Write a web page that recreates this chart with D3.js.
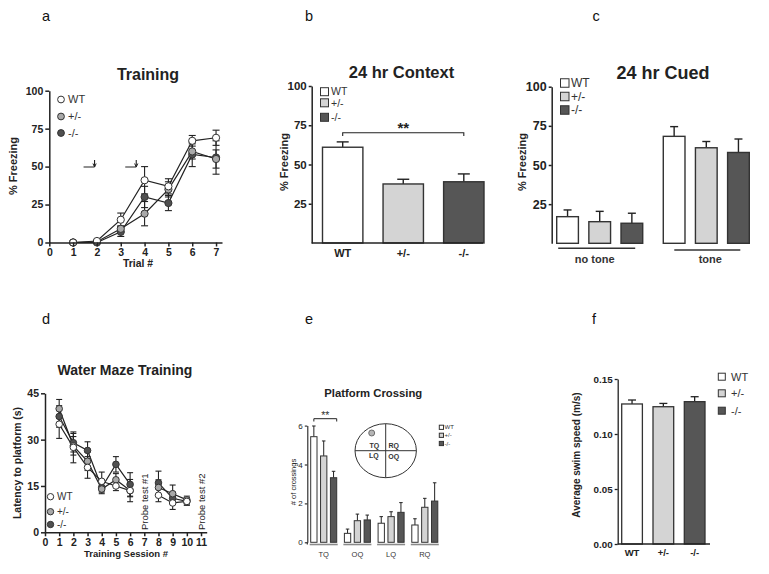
<!DOCTYPE html>
<html><head><meta charset="utf-8">
<script src="https://cdn.jsdelivr.net/npm/d3@7"></script>
<style>body{margin:0;background:#fff} svg{display:block;font-family:"Liberation Sans",Arial,sans-serif}</style>
</head><body><svg id="chart" width="769" height="574"></svg>
<script>
// ---------- DATA ----------
const genotypes = ["WT", "+/-", "-/-"];
const barFill = {"WT": "#ffffff", "+/-": "#d4d4d4", "-/-": "#565656"};
const dotFill = {"WT": "#ffffff", "+/-": "#a9a9a9", "-/-": "#505050"};

// (a) Training
const trials = [1, 2, 3, 4, 5, 6, 7];
const trainWT = [0, 1, 15, 41, 37, 67, 69];
const trainWTErr = [0, 0.5, 4.4, 9, 5, 3.5, 5];
const trainHet = [0, 0.5, 9, 19, 35, 60, 55];
const trainHetErr = [0, 0.5, 2, 8, 5, 5, 6];
const trainKO = [0, 0, 7, 30, 26, 58, 56];
const trainKOErr = [0, 0, 3, 7, 5, 8, 11];
const trialTicks = [0, 1, 2, 3, 4, 5, 6, 7];
const freezeTicks = [0, 25, 50, 75, 100];
const shockMarks = [1.9, 3.65];

// (b) 24 hr Context
const contextMean = [61, 37.6, 39];
const contextErr = [3.4, 3, 5];
const contextTicks = [25, 50, 75, 100];

// (c) 24 hr Cued
const cuedGroups = ["no tone", "tone"];
const cuedNoTone = [17, 13.8, 12.8];
const cuedNoToneErr = [4.3, 6.6, 6.4];
const cuedTone = [68.3, 61, 58];
const cuedToneErr = [6.2, 4, 8.6];

// (d) Water Maze Training
const sessions = [1, 2, 3, 4, 5, 6, 7, 8, 9, 10];
const mazeWT = [35, 27.5, 21, 16.5, 15, 13.5, null, 12, 9.5, 10];
const mazeWTErr = [4.6, 5, 3.5, 3, 1.5, 3.6, null, 2.1, 2.1, 1.2];
const mazeHet = [40, 28, 23, 14, 17, 13.5, null, 14.5, 12.5, 10.5];
const mazeHetErr = [3, 3, 3, 1, 2, 2, null, 2.5, 2.8, 1.2];
const mazeKO = [37.5, 29, 26.5, 14.5, 22, 15.5, null, 16, 11, 10];
const mazeKOErr = [3.5, 3, 2.8, 2, 2.5, 3.8, null, 3.8, 2, 1.2];
const sessionTicks = [0, 1, 2, 3, 4, 5, 6, 7, 8, 9, 10, 11];
const latencyTicks = [0, 15, 30, 45];
const probeTests = [{session: 7, label: "Probe test #1"}, {session: 11, label: "Probe test #2"}];

// (e) Platform Crossing
const quadrants = ["TQ", "OQ", "LQ", "RQ"];
const crossWT = [5.43, 0.46, 0.98, 0.89];
const crossWTErr = [0.55, 0.22, 0.34, 0.32];
const crossHet = [4.44, 1.11, 1.32, 1.8];
const crossHetErr = [0.77, 0.34, 0.25, 0.46];
const crossKO = [3.32, 1.15, 1.54, 2.12];
const crossKOErr = [0.33, 0.25, 0.5, 0.94];
const crossTicks = [0, 2, 4, 6];

// (f) Swim speed
const speedMean = [0.1273, 0.1248, 0.1294];
const speedErr = [0.0036, 0.003, 0.0045];
const speedTicks = [0, 0.05, 0.10, 0.15];

// ---------- HELPERS ----------
const svg = d3.select("#chart");
const INK = "#222";

function styleAxis(g, fs, sw) {
  g.selectAll("path, line").attr("stroke", INK).attr("stroke-width", sw);
  g.selectAll("text").attr("fill", INK).attr("font-size", fs).attr("font-weight", "bold");
}
function yAxis(scale, x, ticks, fmt, fs, ts, sw) {
  const g = svg.append("g").attr("transform", `translate(${x},0)`)
    .call(d3.axisLeft(scale).tickValues(ticks).tickFormat(fmt).tickSize(ts).tickSizeOuter(0).tickPadding(2));
  styleAxis(g, fs, sw);
  return g;
}
function xAxis(scale, y, ticks, fmt, fs, ts, sw) {
  const g = svg.append("g").attr("transform", `translate(0,${y})`)
    .call(d3.axisBottom(scale).tickValues(ticks).tickFormat(fmt).tickSize(ts).tickSizeOuter(0).tickPadding(2));
  styleAxis(g, fs, sw);
  return g;
}
function text(x, y, s, fs, opts = {}) {
  const t = svg.append("text").attr("x", x).attr("y", y).text(s)
    .attr("font-size", fs).attr("fill", opts.fill || INK)
    .attr("font-weight", opts.weight || "normal")
    .attr("text-anchor", opts.anchor || "middle");
  if (opts.family) t.attr("font-family", opts.family);
  if (opts.rotate) t.attr("transform", `rotate(${opts.rotate},${x},${y})`);
  return t;
}
function bar(x, w, y0, yv, yerr, fill, cap, sw) {
  svg.append("line").attr("x1", x + w / 2).attr("x2", x + w / 2).attr("y1", yv).attr("y2", yerr)
    .attr("stroke", INK).attr("stroke-width", sw);
  svg.append("line").attr("x1", x + w / 2 - cap / 2).attr("x2", x + w / 2 + cap / 2).attr("y1", yerr).attr("y2", yerr)
    .attr("stroke", INK).attr("stroke-width", sw);
  svg.append("rect").attr("x", x).attr("y", yv).attr("width", w).attr("height", y0 - yv)
    .attr("fill", fill).attr("stroke", "#333").attr("stroke-width", sw);
}
function barLegend(x, ys, size, fs, tx) {
  genotypes.forEach((gname, i) => {
    svg.append("rect").attr("x", x).attr("y", ys[i] - size / 2).attr("width", size).attr("height", size)
      .attr("fill", barFill[gname]).attr("stroke", "#333").attr("stroke-width", 1);
    text(tx, ys[i] + fs * 0.36, gname, fs, {anchor: "start", fill: "#333"});
  });
}
function dotLegend(x, ys, r, fs, tx) {
  genotypes.forEach((gname, i) => {
    svg.append("circle").attr("cx", x).attr("cy", ys[i]).attr("r", r)
      .attr("fill", dotFill[gname]).attr("stroke", "#333").attr("stroke-width", 1);
    text(tx, ys[i] + fs * 0.36, gname, fs, {anchor: "start", fill: "#333"});
  });
}
function lineSeries(xs, xScale, yScale, vals, errs, cap) {
  const pts = xs.map((x, i) => ({x, v: vals[i], e: errs[i]}));
  const line = d3.line().defined(d => d.v !== null).x(d => xScale(d.x)).y(d => yScale(d.v));
  svg.append("path").datum(pts).attr("d", line).attr("fill", "none").attr("stroke", INK).attr("stroke-width", 1.2);
  const ok = pts.filter(d => d.v !== null);
  ok.forEach(d => {
    if (d.e > 0) {
      const cx = xScale(d.x), y1 = yScale(d.v - d.e), y2 = yScale(d.v + d.e);
      svg.append("line").attr("x1", cx).attr("x2", cx).attr("y1", y1).attr("y2", y2).attr("stroke", INK).attr("stroke-width", 1.1);
      [y1, y2].forEach(yy => svg.append("line").attr("x1", cx - cap).attr("x2", cx + cap).attr("y1", yy).attr("y2", yy)
        .attr("stroke", INK).attr("stroke-width", 1.1));
    }
  });
  return ok;
}
function dots(ok, xScale, yScale, fill, r) {
  ok.forEach(d => svg.append("circle").attr("cx", xScale(d.x)).attr("cy", yScale(d.v)).attr("r", r)
    .attr("fill", fill).attr("stroke", "#333").attr("stroke-width", 1));
}

// panel letters
const letterFont = '"Liberation Sans Narrow","Liberation Sans",Arial,sans-serif';
[["a", 46, 21], ["b", 309, 21], ["c", 596, 21], ["d", 46, 324], ["e", 309, 324], ["f", 594, 324]]
  .forEach(([s, x, y]) => text(x, y, s, 14.5, {family: letterFont, fill: "#111"}));

// ---------- (a) ----------
{
  const x = d3.scaleLinear().domain([0, 7.25]).range([49.3, 222]);
  const y = d3.scaleLinear().domain([0, 100]).range([242.5, 90.7]);
  const a1 = lineSeries(trials, x, y, trainWT, trainWTErr, 3.5);
  const a2 = lineSeries(trials, x, y, trainHet, trainHetErr, 3.5);
  const a3 = lineSeries(trials, x, y, trainKO, trainKOErr, 3.5);
  dots(a3, x, y, dotFill["-/-"], 3.6); dots(a2, x, y, dotFill["+/-"], 3.6); dots(a1, x, y, dotFill["WT"], 3.6);
  yAxis(y, 49.3, freezeTicks, d3.format("d"), 10.5, 4, 1.5);
  xAxis(x, 242.5, trialTicks, d3.format("d"), 10.5, 4, 1.5);
  text(148, 80, "Training", 16, {weight: "bold"});
  text(17, 166, "% Freezing", 11, {weight: "bold", rotate: -90});
  text(138, 267, "Trial #", 10.4, {weight: "bold"});
  dotLegend(61, [99.5, 116.5, 133], 3.4, 11, 68);
  shockMarks.forEach(t => {
    const xe = x(t);
    svg.append("path").attr("d", `M${xe - 11},167 H${xe} M${xe},160 V167`).attr("fill", "none").attr("stroke", INK).attr("stroke-width", 1.1);
    svg.append("path").attr("d", `M${xe - 1.6},163.5 L${xe},167 L${xe + 1.6},163.5`).attr("fill", "none").attr("stroke", INK).attr("stroke-width", 1);
  });
}

// ---------- (b) ----------
{
  const y = d3.scaleLinear().domain([0, 100]).range([243, 86]);
  const x = d3.scaleBand().domain(genotypes).range([322.5, 484]).paddingInner(0.333).paddingOuter(0);
  genotypes.forEach((gname, i) => bar(x(gname), x.bandwidth(), y(0), y(contextMean[i]), y(contextMean[i] + contextErr[i]), barFill[gname], 12, 1.4));
  yAxis(y, 311.7, contextTicks, d3.format("d"), 11.5, 3, 1.5);
  svg.append("line").attr("x1", 311.7).attr("x2", 483).attr("y1", 243).attr("y2", 243).attr("stroke", INK).attr("stroke-width", 1.5);
  genotypes.forEach(gname => text(x(gname) + x.bandwidth() / 2, 257, gname, 11, {weight: "bold"}));
  text(401.5, 78, "24 hr Context", 16.5, {weight: "bold"});
  text(288, 162, "% Freezing", 11, {weight: "bold", rotate: -90});
  barLegend(320.5, [91.7, 102.8, 117.3], 8, 10.5, 331);
  const xa = x("WT") + x.bandwidth() / 2, xb = x("-/-") + x.bandwidth() / 2;
  svg.append("path").attr("d", `M${xa},136 V132.8 H${xb} V136`).attr("fill", "none").attr("stroke", INK).attr("stroke-width", 1.1);
  text((xa + xb) / 2, 133, "**", 15, {weight: "bold"});
}

// ---------- (c) ----------
{
  const y = d3.scaleLinear().domain([0, 100]).range([243.3, 86.7]);
  const gx = d3.scaleBand().domain(cuedGroups).range([556.7, 749.3]).paddingInner(0.193).paddingOuter(0);
  const ix = d3.scaleBand().domain(genotypes).range([0, gx.bandwidth()]).paddingInner(0.325).paddingOuter(0);
  const sets = {"no tone": [cuedNoTone, cuedNoToneErr], "tone": [cuedTone, cuedToneErr]};
  cuedGroups.forEach(gr => {
    const [m, e] = sets[gr];
    genotypes.forEach((gname, i) => bar(gx(gr) + ix(gname), ix.bandwidth(), y(0), y(m[i]), y(m[i] + e[i]), barFill[gname], 8, 1.4));
  });
  yAxis(y, 551.7, contextTicks, d3.format("d"), 12.5, 3, 1.5);
  text(663, 79, "24 hr Cued", 18, {weight: "bold"});
  text(525.5, 162, "% Freezing", 11, {weight: "bold", rotate: -90});
  barLegend(560.5, [83, 96.5, 110], 8.5, 12, 571);
  cuedGroups.forEach((gr, k) => {
    const yy = k === 0 ? 248.3 : 250;
    svg.append("line").attr("x1", gx(gr) + (k === 0 ? 1.5 : 11)).attr("x2", gx(gr) + gx.bandwidth() + (k === 0 ? -7.5 : -9))
      .attr("y1", yy).attr("y2", yy).attr("stroke", "#333").attr("stroke-width", 1.5);
    text(gx(gr) + gx.bandwidth() / 2 + (k === 0 ? -5 : 4), 263, gr, 11, {weight: "bold", fill: "#333"});
  });
}

// ---------- (d) ----------
{
  const x = d3.scaleLinear().domain([0, 11.4]).range([45, 206.7]);
  const y = d3.scaleLinear().domain([0, 45]).range([532.3, 393.3]);
  const d1 = lineSeries(sessions, x, y, mazeWT, mazeWTErr, 3);
  const d2 = lineSeries(sessions, x, y, mazeHet, mazeHetErr, 3);
  const d3s = lineSeries(sessions, x, y, mazeKO, mazeKOErr, 3);
  dots(d3s, x, y, dotFill["-/-"], 3.3); dots(d2, x, y, dotFill["+/-"], 3.3); dots(d1, x, y, dotFill["WT"], 3.3);
  yAxis(y, 45, latencyTicks, d3.format("d"), 10.5, 4, 1.5);
  xAxis(x, 532.3, sessionTicks, d3.format("d"), 10.5, 4, 1.5);
  text(125, 375, "Water Maze Training", 14, {weight: "bold"});
  text(21, 463, "Latency to platform (s)", 10.4, {weight: "bold", rotate: -90});
  text(126, 557, "Training Session #", 9.5, {weight: "bold"});
  dotLegend(50.5, [496.7, 511.7, 524.5], 3.2, 10, 57);
  probeTests.forEach(p => text(x(p.session) + 3.5, 530, p.label, 9.5, {anchor: "start", rotate: -90}));
}

// ---------- (e) ----------
{
  const y = d3.scaleLinear().domain([0, 6]).range([542.3, 425.6]);
  const gx = d3.scaleBand().domain(quadrants).range([310.7, 437.8]).paddingInner(0.228).paddingOuter(0);
  const ix = d3.scaleBand().domain(genotypes).range([0, gx.bandwidth()]).paddingInner(0.36).paddingOuter(0);
  const series = [[crossWT, crossWTErr], [crossHet, crossHetErr], [crossKO, crossKOErr]];
  quadrants.forEach((q, qi) => {
    genotypes.forEach((gname, gi) => {
      const m = series[gi][0][qi], e = series[gi][1][qi];
      bar(gx(q) + ix(gname), ix.bandwidth(), y(0), y(m), y(m + e), barFill[gname], 3.5, 1);
    });
    svg.append("line").attr("x1", gx(q) - 1).attr("x2", gx(q) + gx.bandwidth() + 1)
      .attr("y1", 544.5).attr("y2", 544.5).attr("stroke", "#8a8a8a").attr("stroke-width", 1.6);
    text(gx(q) + gx.bandwidth() / 2, 557, q, 7.5, {fill: "#333"});
  });
  const ya = yAxis(y, 307.3, crossTicks, d3.format("d"), 8, 2.5, 1.1);
  ya.selectAll("text").attr("font-weight", "normal");
  svg.append("line").attr("x1", 307.3).attr("x2", 307.3).attr("y1", 542.3).attr("y2", 544.5).attr("stroke", INK).attr("stroke-width", 1.1);
  text(295.5, 482, "# of crossings", 7.5, {rotate: -90});
  text(373.3, 397, "Platform Crossing", 11.3, {weight: "bold"});
  const sx0 = gx("TQ") + ix("WT") + ix.bandwidth() / 2, sx1 = gx("TQ") + ix("-/-") + ix.bandwidth();
  svg.append("path").attr("d", `M${sx0},421.5 V418.7 H${sx1} V421.5`).attr("fill", "none").attr("stroke", INK).attr("stroke-width", 1);
  text((sx0 + sx1) / 2, 419, "**", 10.5, {fill: "#333"});
  const cx = 385.7, cy = 450.7, rx = 30.7, ry = 27;
  svg.append("ellipse").attr("cx", cx).attr("cy", cy).attr("rx", rx).attr("ry", ry).attr("fill", "none").attr("stroke", "#333").attr("stroke-width", 1);
  svg.append("line").attr("x1", cx).attr("x2", cx).attr("y1", cy - ry).attr("y2", cy + ry).attr("stroke", "#333").attr("stroke-width", 1);
  svg.append("line").attr("x1", cx - rx).attr("x2", cx + rx).attr("y1", cy).attr("y2", cy).attr("stroke", "#333").attr("stroke-width", 1);
  svg.append("circle").attr("cx", 371.7).attr("cy", 433).attr("r", 3).attr("fill", "#b5b5b5").attr("stroke", "#555").attr("stroke-width", 0.8);
  [["TQ", 374.3, 447.5], ["RQ", 393.8, 447.5], ["LQ", 373.8, 458.2], ["OQ", 393.8, 459.2]]
    .forEach(([s, tx, ty]) => text(tx, ty, s, 7, {fill: "#333", weight: "bold"}));
  barLegend(439.3, [427.3, 435.3, 443.5], 4.2, 6, 444.5);
}

// ---------- (f) ----------
{
  const y = d3.scaleLinear().domain([0, 0.15]).range([544, 379]);
  const x = d3.scaleBand().domain(genotypes).range([621.7, 705]).paddingInner(0.339).paddingOuter(0);
  genotypes.forEach((gname, i) => bar(x(gname), x.bandwidth(), y(0), y(speedMean[i]), y(speedMean[i] + speedErr[i]), barFill[gname], 8, 1.3));
  yAxis(y, 617.7, speedTicks, d3.format(".2f"), 9.8, 3, 1.3);
  svg.append("line").attr("x1", 617.7).attr("x2", 710).attr("y1", 544).attr("y2", 544).attr("stroke", INK).attr("stroke-width", 1.3);
  genotypes.forEach(gname => text(x(gname) + x.bandwidth() / 2, 556, gname, 9.5, {weight: "bold"}));
  text(580, 455, "Average swim speed (m/s)", 10, {weight: "bold", rotate: -90});
  barLegend(718.3, [376.7, 393.3, 410.7], 7, 11, 731);
}
</script></body></html>
